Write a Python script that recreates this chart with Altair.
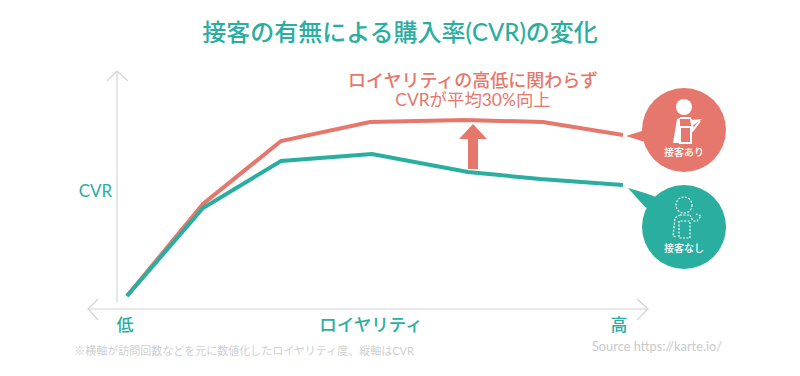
import altair as alt
import pandas as pd

TEAL = "#2aae9f"
RED = "#e6776c"
GREY = "#d4d4d4"
FONT = "Lato, Noto Sans CJK JP"

# loyalty (x) and CVR (y) readings, on the scale of the picture
loyalty_red = [127, 203, 281, 370, 465, 543, 623]
cvr_red = [296, 204, 141, 122, 120, 122, 135]
loyalty_green = [127, 203, 281, 372, 468, 540, 623]
cvr_green = [296, 208, 161, 154, 172, 179, 185]

# axis lines and chevrons
axis_x = [117, 117, None, 107, 117, 128, None, 648, 88, None, 98, 88, 98, None, 637, 648, 637]
axis_y = [302, 71, None, 81, 71, 81, None, 309, 309, None, 299, 309, 320, None, 299, 309, 320]
axis_id = [0, 0, None, 1, 1, 1, None, 2, 2, None, 3, 3, 3, None, 4, 4, 4]

# filled shapes (x, y top, y bottom)
tail_red = ([626, 645, 650], [136, 130, 130], [136, 142, 142])
tail_green = ([628, 645, 656], [188, 193, 197], [188, 207, 212])
arrow_head = ([459, 473, 487], [139, 124, 139], [139, 139, 139])
arrow_shaft = ([468, 478], [139, 139], [169, 169])
tray = ([691, 702], [120, 119], [127, 119])
sleeve = ([673, 677, 680], [143, 119, 118], [143, 143, 143])

# bubbles
bubble_x = [684, 684]
bubble_y = [130, 227]

# icon strokes: id, x, y
solid_id = ["b", "b", "b", "c", "c", "c", "c", "c", "d", "d"]
solid_x = [691, 693, 700, 680, 680, 691, 691, 680, 680, 691]
solid_y = [119, 130, 121, 127, 143, 143, 127, 127, 118, 118]
dash_id = ["a", "a", "a", "a", "b", "b", "b", "b", "b", "c", "c", "c", "c", "c", "d", "d"]
dash_x = [680, 675, 673, 677, 690, 693, 697, 701, 696, 679, 679, 690, 690, 679, 680, 690]
dash_y = [215, 218, 236, 237, 215, 221, 221, 216, 214, 221, 238, 238, 221, 221, 215, 215]

texts = [
    ("接客の有無による購入率(CVR)の変化", 400, 41, 24, TEAL, 500),
    ("ロイヤリティの高低に関わらず", 473, 87, 18, RED, 500),
    ("CVRが平均30%向上", 473, 106, 17.4, RED, 400),
    ("CVR", 95.5, 197, 17, TEAL, 400),
    ("低", 125, 331, 17, TEAL, 500),
    ("ロイヤリティ", 371, 331, 17.5, TEAL, 500),
    ("高", 619, 331, 17, TEAL, 500),
    ("※横軸が訪問回数などを元に数値化したロイヤリティ度、縦軸はCVR", 244, 355, 11, "#cfcfcf", 400),
    ("Source https://karte.io/", 657, 351, 12.8, "#c9c9c9", 400),
    ("接客あり", 684, 156, 10, "white", 500),
    ("接客なし", 684, 252, 10, "white", 500),
]

xs = alt.Scale(domain=[8, 792], nice=False, zero=False)
ys = alt.Scale(domain=[368, 8], nice=False, zero=False)
X = alt.X("x:Q", scale=xs, axis=None)
Y = alt.Y("y:Q", scale=ys, axis=None)


def line(xv, yv, color, width, dash=None, ids=None):
    df = pd.DataFrame({"x": xv, "y": yv, "g": ids if ids else [0] * len(xv)}).dropna()
    kw = {"strokeDash": dash} if dash else {}
    return alt.Chart(df).mark_line(color=color, strokeWidth=width, **kw).encode(
        x=X, y=Y, detail="g:N", order=alt.Order("o:Q")
    ).transform_window(o="row_number()", groupby=["g"])


def area(shape, color):
    df = pd.DataFrame({"x": shape[0], "y": shape[1], "y2": shape[2]})
    return alt.Chart(df).mark_area(color=color, opacity=1, orient="vertical").encode(x=X, y=Y, y2="y2:Q")


def circle(xv, yv, radius, **kw):
    df = pd.DataFrame({"x": xv, "y": yv})
    return alt.Chart(df).mark_circle(size=4 * radius ** 2, opacity=1, **kw).encode(x=X, y=Y)


layers = [
    line(axis_x, axis_y, GREY, 1.2, ids=axis_id),
    line(loyalty_red, cvr_red, RED, 4),
    line(loyalty_green, cvr_green, TEAL, 4),
    area(arrow_head, RED),
    area(arrow_shaft, RED),
    area(tail_red, RED),
    area(tail_green, TEAL),
    circle(bubble_x[:1], bubble_y[:1], 42, color=RED),
    circle(bubble_x[1:], bubble_y[1:], 42, color=TEAL),
    circle([684], [107], 8, color="white"),
    area(sleeve, "white"),
    line(solid_x, solid_y, "white", 2, ids=solid_id),
    area(tray, "white"),
    line(dash_x, dash_y, "white", 1.2, dash=[2, 1.5], ids=dash_id),
    alt.Chart(pd.DataFrame({"x": [684], "y": [205]})).mark_point(
        size=4 * 64, color="white", strokeWidth=1.2, strokeDash=[2, 1.5], shape="circle", filled=False, opacity=1
    ).encode(x=X, y=Y),
]

for t, x, y, size, color, weight in texts:
    layers.append(
        alt.Chart(pd.DataFrame({"x": [x], "y": [y], "t": [t]}))
        .mark_text(fontSize=size, color=color, fontWeight=weight, font=FONT, align="center",
                   baseline="alphabetic")
        .encode(x=X, y=Y, text="t:N")
    )

chart = (
    alt.layer(*layers)
    .properties(width=784, height=360, padding=0, autosize=alt.AutoSizeParams(type="none"),
                view=alt.ViewConfig(stroke="transparent", strokeWidth=0))
    .configure_view(stroke="transparent", strokeWidth=0)
    .configure(background="white")
)
chart.save("out.html", embed_options={"renderer": "svg", "actions": False})
